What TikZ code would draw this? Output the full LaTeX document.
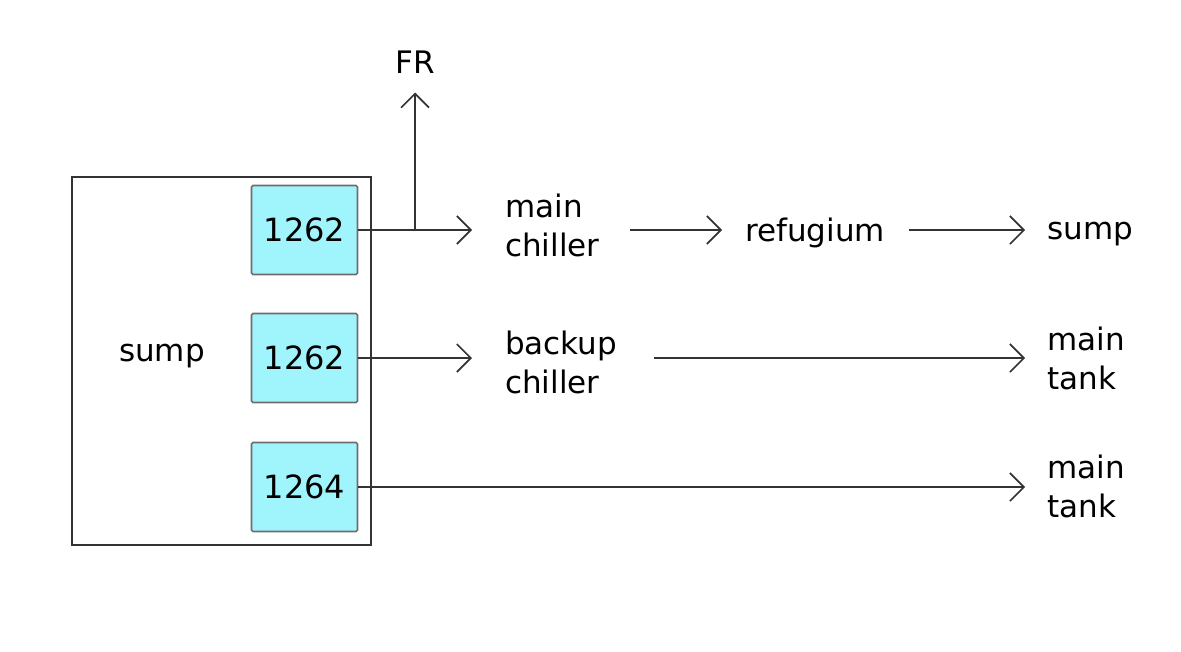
\documentclass[tikz,border=0pt]{standalone}
\usepackage{fontspec}
\setmainfont{DejaVu Sans}
\usetikzlibrary{arrows.meta}
\definecolor{linegray}{HTML}{333333}
\definecolor{boxcyan}{HTML}{A0F4FC}
\definecolor{boxedge}{HTML}{6E6E6E}
\begin{document}
\begin{tikzpicture}[x=1pt,y=-1pt,
  conn/.style={draw=linegray,line width=1.6pt,-{Straight Barb[length=14pt,width=28pt,line width=1.6pt]}},
  wire/.style={draw=linegray,line width=1.6pt},
  pumpbox/.style={draw=boxedge,fill=boxcyan,line width=1.6pt,rounded corners=1.5pt,minimum width=106pt,minimum height=89pt,inner sep=0pt,font=\fontsize{32}{38}\selectfont},
  lbl/.style={anchor=west,inner sep=0pt,align=left,font=\fontsize{31}{39}\selectfont}]
\useasboundingbox (0,0) rectangle (1181,651);
\node[draw=linegray,line width=1.4pt,minimum width=299pt,minimum height=368pt,inner sep=0pt] (sumpbox) at (221.5,361) {};
\node[inner sep=0pt,font=\fontsize{31}{38}\selectfont] (sumplbl) at (162,356) {sump};
\node[pumpbox] (p1) at (304.5,230) {1262};
\node[pumpbox] (p2) at (304.5,358) {1262};
\node[pumpbox] (p3) at (304.5,487) {1264};
\node[lbl] (mc) at (505,225) {main\\chiller};
\node[lbl] (ref) at (745,233) {refugium};
\node[lbl] (sump2) at (1047,234) {sump};
\node[lbl] (bc) at (505,362) {backup\\chiller};
\node[lbl] (mt1) at (1047,358) {main\\tank};
\node[lbl] (mt2) at (1047,486) {main\\tank};
\node[inner sep=0pt,font=\fontsize{31}{38}\selectfont] (fr) at (415,62) {FR};
\coordinate (br) at (415,230);
\draw[wire] (p1.east) -- (br);
\draw[conn] (br) -- ([xshift=-33pt]mc.west |- br);
\draw[conn] (br) -- ([yshift=-19pt]fr.south);
\draw[conn] ([xshift=30pt]mc.east |- br) -- ([xshift=-23pt]ref.west |- br);
\draw[conn] ([xshift=24pt]ref.east |- br) -- ([xshift=-22pt]sump2.west |- br);
\draw[conn] (p2.east) -- ([xshift=-33pt]bc.west |- p2.east);
\draw[conn] ([xshift=37pt]bc.east |- p2.east) -- ([xshift=-22pt]mt1.west |- p2.east);
\draw[conn] (p3.east) -- ([xshift=-22pt]mt2.west |- p3.east);
\end{tikzpicture}
\end{document}
